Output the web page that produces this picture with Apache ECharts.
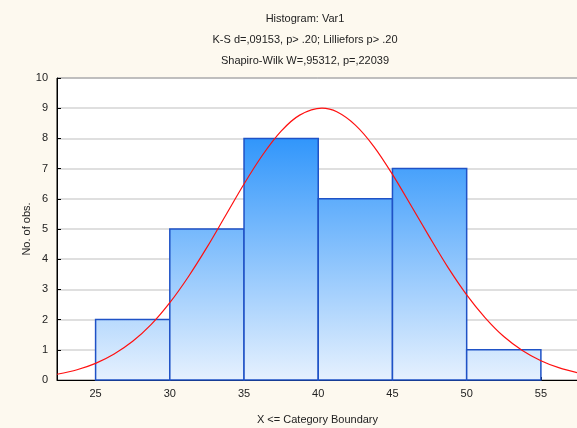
<!DOCTYPE html>
<html>
<head>
<meta charset="utf-8">
<script src="https://cdn.jsdelivr.net/npm/echarts@6/dist/echarts.min.js"></script>
<style>
  html, body { margin: 0; padding: 0; background: #fdf9ef; }
  #chart { width: 577px; height: 428px; }
</style>
</head>
<body>
<div id="chart"></div>
<script>
// histogram bins (lower boundary) and counts
var binStart = [25, 30, 35, 40, 45, 50]
var binWidth = 5
var counts = [2, 5, 8, 6, 7, 1]
// fitted normal curve
var curveX = [22.4, 23.75, 25, 26.25, 27.5, 28.75, 30, 31.25, 32.5, 33.75, 35, 36.25, 37.5, 38.75, 40.25,
  41.25, 42.5, 43.75, 45, 46.25, 47.5, 48.75, 50, 51.25, 52.5, 53.75, 55, 56.25, 57.5]
var curveY = [0.19, 0.34, 0.55, 0.86, 1.28, 1.84, 2.56, 3.42, 4.39, 5.44, 6.49, 7.45, 8.24, 8.77, 9.0,
  8.88, 8.44, 7.73, 6.81, 5.78, 4.73, 3.72, 2.82, 2.06, 1.44, 0.98, 0.64, 0.40, 0.24]
var xTicks = [25, 30, 35, 40, 45, 50, 55]
var titleLines = [
  'Histogram: Var1',
  'K-S d=,09153, p> .20; Lilliefors p> .20',
  'Shapiro-Wilk W=,95312, p=,22039'
]

var font = '"Liberation Sans", Arial, sans-serif'
var chart = echarts.init(document.getElementById('chart'))

var barData = binStart.map(function (s, i) { return [s, s + binWidth, counts[i]] })
var curveData = curveX.map(function (x, i) { return [x, curveY[i]] })

var option = {
  backgroundColor: '#fdf9ef',
  animation: false,
  title: titleLines.map(function (t, i) {
    return {
      text: t,
      left: 300,
      textAlign: 'center',
      top: 8 + i * 21,
      textStyle: { fontFamily: font, fontSize: 11, fontWeight: 'normal', color: '#222' }
    }
  }),
  grid: {
    left: 57, top: 78, width: 521, height: 302,
    outerBoundsMode: 'none',
    containLabel: false,
    show: true, backgroundColor: '#fff', borderColor: '#000', borderWidth: 1
  },
  xAxis: {
    type: 'value',
    min: 22.4,
    max: 57.5,
    name: 'X <= Category Boundary',
    nameLocation: 'middle',
    nameGap: 34,
    nameTextStyle: { fontFamily: font, fontSize: 11, color: '#222' },
    axisLine: { lineStyle: { color: '#000' } },
    axisTick: { inside: true, length: 3, lineStyle: { color: '#000' }, customValues: xTicks },
    axisLabel: { fontFamily: font, fontSize: 11, color: '#222', margin: 8, customValues: xTicks },
    splitLine: { show: false }
  },
  yAxis: {
    type: 'value',
    min: 0,
    max: 10,
    interval: 1,
    name: 'No. of obs.',
    nameLocation: 'middle',
    nameGap: 25,
    nameMoveOverlap: false,
    nameRotate: 90,
    nameTextStyle: { fontFamily: font, fontSize: 11, color: '#222' },
    axisLine: { show: true, lineStyle: { color: '#000' } },
    axisTick: { show: true, inside: true, length: 4, lineStyle: { color: '#000' } },
    axisLabel: { fontFamily: font, fontSize: 11, color: '#222', margin: 9 },
    splitLine: { show: true, lineStyle: { color: '#d4d4d4', width: 1.5 } }
  },
  series: [
    {
      type: 'custom',
      data: barData,
      encode: { x: [0, 1], y: 2 },
      renderItem: function (params, api) {
        var p0 = api.coord([api.value(0), api.value(2)])
        var p1 = api.coord([api.value(1), 0])
        var top8 = api.coord([0, 8])[1]
        var base = api.coord([0, 0])[1]
        return {
          type: 'rect',
          shape: { x: p0[0], y: p0[1], width: p1[0] - p0[0], height: p1[1] - p0[1] },
          style: {
            fill: new echarts.graphic.LinearGradient(0, top8, 0, base, [
              { offset: 0, color: '#3196fb' },
              { offset: 1, color: '#e6f1fe' }
            ], true),
            stroke: '#1f52c6',
            lineWidth: 1.5
          }
        }
      },
      z: 2
    },
    {
      type: 'line',
      data: curveData,
      smooth: 0.3,
      showSymbol: false,
      lineStyle: { color: '#ff1010', width: 1.2 },
      z: 3
    }
  ]
}

chart.setOption(option)
</script>
</body>
</html>
